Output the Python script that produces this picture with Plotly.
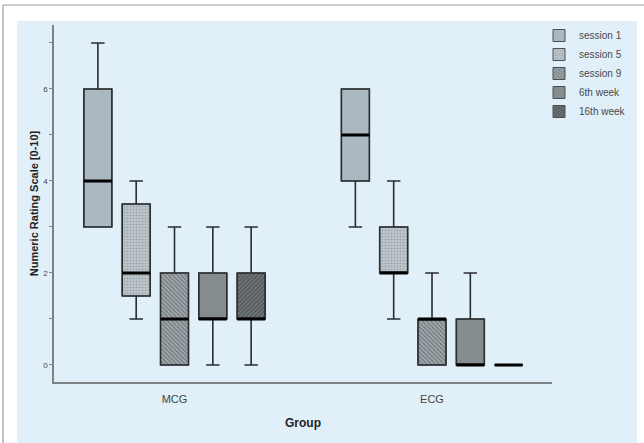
import plotly.graph_objects as go

groups = ["MCG", "ECG"]
series = ["session 1", "session 5", "session 9", "6th week", "16th week"]

# box statistics per series: [MCG, ECG]
q1 = {
    "session 1": [3, 4],
    "session 5": [1.5, 2],
    "session 9": [0, 0],
    "6th week": [1, 0],
    "16th week": [1, 0],
}
median = {
    "session 1": [4, 5],
    "session 5": [2, 2],
    "session 9": [1, 1],
    "6th week": [1, 0],
    "16th week": [1, 0],
}
q3 = {
    "session 1": [6, 6],
    "session 5": [3.5, 3],
    "session 9": [2, 1],
    "6th week": [2, 1],
    "16th week": [2, 0],
}
low = {
    "session 1": [3, 3],
    "session 5": [1, 1],
    "session 9": [0, 0],
    "6th week": [0, 0],
    "16th week": [0, 0],
}
high = {
    "session 1": [7, 6],
    "session 5": [4, 4],
    "session 9": [3, 2],
    "6th week": [3, 2],
    "16th week": [3, 0],
}

y_ticks = [0, 2, 4, 6]

styles = {
    "session 1": dict(bg="#abb8bf", fg="#abb8bf", shape="", size=4, solidity=0.3),
    "session 5": dict(bg="#c0c9ce", fg="#7a8489", shape=".", size=3, solidity=0.4),
    "session 9": dict(bg="#a9b1b5", fg="#454c50", shape="\\", size=3, solidity=0.55),
    "6th week": dict(bg="#858c90", fg="#858c90", shape="", size=4, solidity=0.3),
    "16th week": dict(bg="#767d81", fg="#33383b", shape="/", size=3, solidity=0.62),
}

fig = go.Figure()

for s in series:
    st = styles[s]
    heights = [b - a for a, b in zip(q1[s], q3[s])]
    fig.add_trace(go.Bar(
        x=groups, y=heights, base=q1[s], name=s, offsetgroup=s,
        marker=dict(color=st["bg"],
                    line=dict(color="#4a4f52", width=1),
                    pattern=dict(shape=st["shape"], bgcolor=st["bg"], fgcolor=st["fg"],
                                 size=st["size"], solidity=st["solidity"], fillmode="overlay")),
        showlegend=True, hoverinfo="skip",
    ))

for s in series:
    fig.add_trace(go.Box(
        x=groups, q1=q1[s], median=median[s], q3=q3[s],
        lowerfence=low[s], upperfence=high[s],
        name=s, showlegend=False, offsetgroup=s,
        fillcolor="rgba(0,0,0,0)",
        line=dict(color="#2a2d2f", width=1.6),
        whiskerwidth=0.48, hoverinfo="skip",
    ))

# thick black median bars
for s in series:
    fig.add_trace(go.Box(
        x=groups, q1=median[s], median=median[s], q3=median[s],
        lowerfence=median[s], upperfence=median[s],
        name=s + " median", showlegend=False, offsetgroup=s,
        fillcolor="rgba(0,0,0,0)",
        line=dict(color="#000000", width=3),
        whiskerwidth=0, hoverinfo="skip",
    ))

W, H = 644, 443
ml, mr, mt, mb = 54, 92, 25, 61
pw, ph = W - ml - mr, H - mt - mb

def px(x):
    return (x - ml) / pw

def py(y):
    return (H - mb - y) / ph

shapes = [
    # light blue panel
    dict(type="rect", xref="paper", yref="paper", layer="below",
         x0=px(17), x1=px(637), y0=py(445), y1=py(21),
         fillcolor="#e0eff8", line=dict(width=0)),
    # outer frame (top + left)
    dict(type="line", xref="paper", yref="paper", x0=px(3), x1=px(646), y0=py(5), y1=py(5),
         line=dict(color="#9a9a9a", width=1.2)),
    dict(type="line", xref="paper", yref="paper", x0=px(3), x1=px(3), y0=py(5), y1=py(445),
         line=dict(color="#9a9a9a", width=1.2)),
]

fig.update_layout(
    width=W, height=H,
    margin=dict(l=ml, r=mr, t=mt, b=mb, pad=0),
    paper_bgcolor="white", plot_bgcolor="rgba(0,0,0,0)",
    barmode="group", bargap=0.256, bargroupgap=0.269,
    boxmode="group", boxgap=0.256, boxgroupgap=0.269,
    shapes=shapes,
    font=dict(family="Arial, Liberation Sans", color="#333333"),
    legend=dict(x=px(539), y=py(21), xanchor="left", yanchor="top",
                bgcolor="rgba(0,0,0,0)", font=dict(size=10, color="#4a4a4a"),
                tracegroupgap=0, itemwidth=30),
    xaxis=dict(
        range=[-0.468, 1.466], showgrid=False, zeroline=False,
        showline=True, linecolor="#7d8285", linewidth=1.5,
        ticks="", tickfont=dict(size=11, color="#444444"),
        ticklabelstandoff=6,
        title=dict(text="<b>Group</b>", font=dict(size=12, color="#222222"), standoff=15),
        fixedrange=True,
    ),
    yaxis=dict(
        range=[-0.37, 7.39], showgrid=False, zeroline=False,
        showline=True, linecolor="#7d8285", linewidth=1.5,
        tickvals=y_ticks, ticktext=[str(v) for v in y_ticks],
        ticks="outside", ticklen=3, tickcolor="#7d8285",
        minor=dict(dtick=1, ticks="outside", ticklen=3, tickcolor="#7d8285"),
        tickfont=dict(size=8, color="#444444"),
        title=dict(text="<b>Numeric Rating Scale [0-10]</b>", font=dict(size=11, color="#222222"),
                   standoff=2),
        fixedrange=True,
    ),
)

fig.write_html("out.html", config={"displayModeBar": False},
               post_script="document.body.style.margin='0';")
